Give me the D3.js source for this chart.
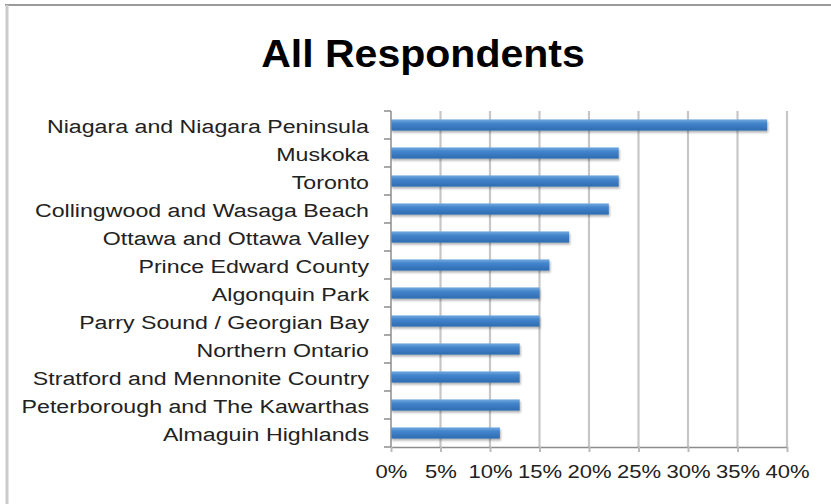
<!DOCTYPE html>
<html><head><meta charset="utf-8">
<script src="https://cdn.jsdelivr.net/npm/d3@7"></script>
<style>html,body{margin:0;padding:0;background:#fff;}svg{display:block;}</style>
</head><body>
<script>
const title = "All Respondents";
const categories = [
  "Niagara and Niagara Peninsula","Muskoka","Toronto","Collingwood and Wasaga Beach",
  "Ottawa and Ottawa Valley","Prince Edward County","Algonquin Park","Parry Sound / Georgian Bay",
  "Northern Ontario","Stratford and Mennonite Country","Peterborough and The Kawarthas","Almaguin Highlands"
];
const values = [0.38,0.23,0.23,0.22,0.18,0.16,0.15,0.15,0.13,0.13,0.13,0.11];
const tickValues = [0,0.05,0.10,0.15,0.20,0.25,0.30,0.35,0.40];

const W = 831, H = 504;
const margin = {left:391, right:44, top:111, bottom:57};
const svg = d3.select("body").append("svg").attr("width",W).attr("height",H);

// gradient + shadow
const defs = svg.append("defs");
const g1 = defs.append("linearGradient").attr("id","barGrad").attr("x1",0).attr("y1",0).attr("x2",0).attr("y2",1);
g1.append("stop").attr("offset","0%").attr("stop-color","#73a9de");
g1.append("stop").attr("offset","35%").attr("stop-color","#4385cc");
g1.append("stop").attr("offset","100%").attr("stop-color","#2e6bb1");
const f = defs.append("filter").attr("id","shadow").attr("x","-5%").attr("y","-50%").attr("width","115%").attr("height","220%");
f.append("feDropShadow").attr("dx",1).attr("dy",2).attr("stdDeviation",1.2).attr("flood-color","#000").attr("flood-opacity",0.3);

// frame
svg.append("line").attr("x1",5).attr("x2",W).attr("y1",5).attr("y2",5).attr("stroke","#9a9a9a").attr("stroke-width",2);
svg.append("line").attr("x1",7).attr("x2",7).attr("y1",5).attr("y2",H).attr("stroke","#cccccc").attr("stroke-width",3);

const x = d3.scaleLinear().domain([0,0.40]).range([margin.left, W-margin.right]);
const y = d3.scaleBand().domain(categories).range([margin.top, H-margin.bottom]).paddingInner(0.6).paddingOuter(0.3);

// title
svg.append("text").attr("transform",`translate(423,67) scale(1.08,1)`)
  .attr("text-anchor","middle").attr("font-family","Liberation Sans, Arial, sans-serif")
  .attr("font-weight","bold").attr("font-size",38).attr("fill","#000").text(title);

// gridlines
svg.append("g").selectAll("line").data(tickValues.slice(1)).join("line")
  .attr("x1",d=>x(d)).attr("x2",d=>x(d)).attr("y1",margin.top).attr("y2",H-margin.bottom)
  .attr("stroke","#c6c6c6").attr("stroke-width",2.2);

// bars
svg.append("g").selectAll("rect").data(categories).join("rect")
  .attr("x",x(0)).attr("y",(d)=>y(d)).attr("height",y.bandwidth())
  .attr("width",(d,i)=>x(values[i])-x(0))
  .attr("fill","url(#barGrad)").attr("filter","url(#shadow)");

// x axis
const xAxis = d3.axisBottom(x).tickValues(tickValues).tickFormat(d3.format(".0%")).tickSize(5).tickSizeOuter(0);
const gx = svg.append("g").attr("transform",`translate(0,${H-margin.bottom})`).call(xAxis);
gx.select(".domain").attr("stroke","#8c8c8c").attr("stroke-width",1.5);
gx.selectAll(".tick line").attr("stroke","#bbbbbb").attr("stroke-width",2);
gx.selectAll(".tick text").attr("font-family","Liberation Sans, Arial, sans-serif").attr("font-size",19)
  .attr("fill","#222").attr("dy",0).attr("y",0)
  .attr("transform","translate(0,31) scale(1.16,1)");

// y axis (ticks at band boundaries)
const bounds = d3.range(categories.length+1).map(i=>margin.top + i*(H-margin.bottom-margin.top)/categories.length);
const gy = svg.append("g");
gy.append("line").attr("x1",margin.left).attr("x2",margin.left).attr("y1",margin.top).attr("y2",H-margin.bottom)
  .attr("stroke","#8c8c8c").attr("stroke-width",1.5);
gy.selectAll("line.t").data(bounds).join("line").attr("class","t")
  .attr("x1",margin.left-7).attr("x2",margin.left).attr("y1",d=>d).attr("y2",d=>d)
  .attr("stroke","#8c8c8c").attr("stroke-width",1.5);
gy.selectAll("text").data(categories).join("text")
  .attr("transform",d=>`translate(369,${y(d)+y.bandwidth()/2+8}) scale(1.22,1)`)
  .attr("text-anchor","end").attr("font-family","Liberation Sans, Arial, sans-serif")
  .attr("font-size",19).attr("fill","#222").text(d=>d);
</script>
</body></html>
